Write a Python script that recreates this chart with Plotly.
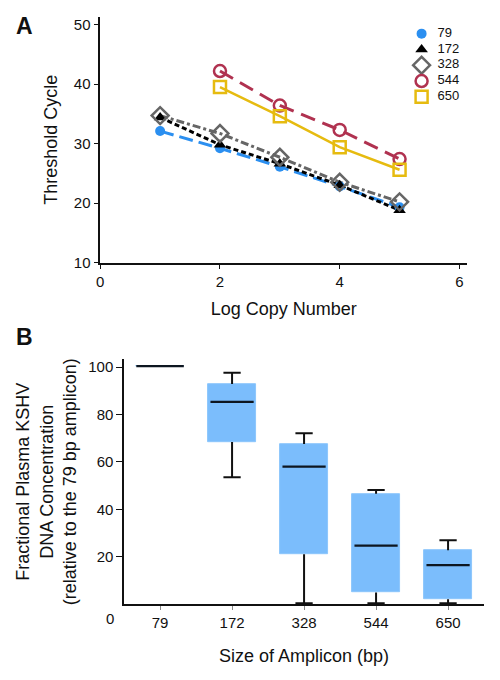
import plotly.graph_objects as go

# ---------------- Panel A data ----------------
log_copy = [1, 2, 3, 4, 5]
log_copy_long = [2, 3, 4, 5]
ct_79 = [32.1, 29.2, 26.1, 22.8, 19.3]
ct_172 = [34.4, 29.8, 26.6, 23.0, 18.8]
ct_328 = [34.7, 31.7, 27.7, 23.5, 20.2]
ct_544 = [42.2, 36.4, 32.3, 27.4]
ct_650 = [39.5, 34.6, 29.4, 25.6]
series_names = ["79", "172", "328", "544", "650"]

# ---------------- Panel B data ----------------
amplicons = ["79", "172", "328", "544", "650"]
b_lower = [100.4, 53.5, 0.5, 0.5, 0.5]
b_q1 = [100.4, 68.4, 21.1, 5.0, 2.1]
b_median = [100.4, 85.3, 58.0, 24.7, 16.5]
b_q3 = [100.4, 92.8, 67.6, 46.6, 22.8]
b_upper = [100.4, 97.6, 72.1, 48.2, 27.0]

# page body has an 8px default margin: the figure sits at (8, 8)
OFF = 8
W, H = 500 - 2 * OFF, 680 - 2 * OFF
FONT = "Liberation Sans, Arial, Helvetica, sans-serif"

fig = go.Figure()

styles = [
    ("#2b8ff0", "circle", 10, "14px,6px", 3),
    ("#000000", "triangle-up", 11, "5px,3px", 3),
    ("#666666", "diamond-open", 13, "8px,3px,3px,3px", 3),
    ("#b03250", "circle-open", 12, "15px,8px", 3),
    ("#e6bb10", "square-open", 12, "solid", 2.5),
]
xs_list = [log_copy, log_copy, log_copy, log_copy_long, log_copy_long]
ys_list = [ct_79, ct_172, ct_328, ct_544, ct_650]

for xs, ys, (color, sym, size, dash, lw) in zip(xs_list, ys_list, styles):
    fig.add_trace(go.Scatter(
        x=xs, y=ys, mode="lines", showlegend=False,
        line=dict(color=color, width=lw, dash=dash),
        xaxis="x", yaxis="y", hoverinfo="skip"))
for name, xs, ys, (color, sym, size, dash, lw) in zip(series_names, xs_list, ys_list, styles):
    fig.add_trace(go.Scatter(
        x=xs, y=ys, mode="markers", name=name, showlegend=False,
        marker=dict(color=color, symbol=sym, size=size,
                    line=dict(color=color, width=2.5 if "open" in sym else 0)),
        xaxis="x", yaxis="y"))

# legend (key) drawn on its own small hidden axis
for i, (name, (color, sym, size, dash, lw)) in enumerate(zip(series_names, styles)):
    fig.add_trace(go.Scatter(
        x=[0], y=[i], mode="markers", showlegend=False, hoverinfo="skip",
        marker=dict(color=color, symbol=sym, size=size,
                    line=dict(color=color, width=2.5 if "open" in sym else 0)),
        xaxis="x3", yaxis="y3"))
fig.add_trace(go.Scatter(
    x=[16] * len(series_names), y=list(range(len(series_names))), mode="text",
    text=series_names, textposition="middle right", showlegend=False, hoverinfo="skip",
    textfont=dict(family=FONT, size=13, color="#111111"),
    xaxis="x3", yaxis="y3"))

# ---------------- Panel B (boxes drawn as bars + lines) ----------------
idx = list(range(len(amplicons)))
fig.add_trace(go.Bar(
    x=idx, y=[q3 - q1 for q1, q3 in zip(b_q1, b_q3)], base=b_q1, width=0.66,
    marker=dict(color="#7bbdfc", line=dict(color="#8cc6fc", width=1)),
    showlegend=False, xaxis="x2", yaxis="y2", hoverinfo="skip"))

wx, wy = [], []
for i in idx:
    if b_upper[i] > b_q3[i]:
        wx += [i, i, None, i - 0.12, i + 0.12, None]
        wy += [b_q3[i], b_upper[i], None, b_upper[i], b_upper[i], None]
    if b_lower[i] < b_q1[i]:
        wx += [i, i, None, i - 0.12, i + 0.12, None]
        wy += [b_q1[i], b_lower[i], None, b_lower[i], b_lower[i], None]
fig.add_trace(go.Scatter(x=wx, y=wy, mode="lines", line=dict(color="#111111", width=2),
                         showlegend=False, xaxis="x2", yaxis="y2", hoverinfo="skip"))
mx, my = [], []
for i in idx:
    half = 0.33 if i == 0 else 0.3
    mx += [i - half, i + half, None]
    my += [b_median[i], b_median[i], None]
fig.add_trace(go.Scatter(x=mx, y=my, mode="lines", line=dict(color="#0d1620", width=2.2),
                         showlegend=False, xaxis="x2", yaxis="y2", hoverinfo="skip"))


def px_x(p):
    return (p - OFF) / W


def px_y(p):
    return 1 - (p - OFF) / H


tickfont = dict(family=FONT, size=15, color="#111111")
titlefont = dict(family=FONT, size=18, color="#111111")

fig.update_layout(
    width=W, height=H,
    margin=dict(l=0, r=0, t=0, b=0),
    paper_bgcolor="white", plot_bgcolor="white",
    font=dict(family=FONT, color="#111111"),
    xaxis=dict(domain=[px_x(97), px_x(467)], range=[0, 6.13], tickvals=[0, 2, 4, 6],
               showgrid=False, zeroline=False, showline=True, linecolor="#111111", linewidth=1.5,
               ticks="outside", ticklen=5, tickcolor="#111111", tickfont=tickfont,
               title=dict(text="Log Copy Number", font=titlefont, standoff=13),
               anchor="y"),
    yaxis=dict(domain=[px_y(265), px_y(16)], range=[10, 51.3], tickvals=[10, 20, 30, 40, 50],
               showgrid=False, zeroline=False, showline=True, linecolor="#111111", linewidth=1.5,
               ticks="outside", ticklen=5, tickcolor="#111111", tickfont=tickfont,
               title=dict(text="Threshold Cycle", font=titlefont, standoff=12),
               anchor="x"),
    xaxis2=dict(domain=[px_x(121), px_x(484)], range=[-0.5, 4.5], tickvals=idx, ticktext=amplicons,
                showgrid=False, zeroline=False, showline=True, linecolor="#111111", linewidth=1.5,
                ticks="outside", ticklen=4, tickcolor="#888888", tickfont=tickfont,
                title=dict(text="Size of Amplicon (bp)", font=titlefont, standoff=19),
                anchor="y2"),
    yaxis2=dict(domain=[px_y(611.5), px_y(363)], range=[0, 103.3], tickvals=[20, 40, 60, 80, 100],
                showgrid=False, zeroline=False, showline=True, linecolor="#111111", linewidth=1.5,
                ticks="outside", ticklen=6, tickcolor="#111111", tickfont=tickfont,
                title=dict(text="Fractional Plasma KSHV<br>DNA Concentration<br>(relative to the 79 bp amplicon)",
                           font=titlefont, standoff=7),
                anchor="x2"),
    xaxis3=dict(domain=[px_x(400), px_x(490)], range=[-21, 69], visible=False, fixedrange=True,
                anchor="y3"),
    yaxis3=dict(domain=[px_y(105), px_y(25)], range=[4.5, -0.5], visible=False, fixedrange=True,
                anchor="x3"),
    showlegend=False,
    bargap=0,
)

fig.add_annotation(text="<b>A</b>", x=px_x(10), y=px_y(25), xref="paper", yref="paper",
                   xanchor="left", yanchor="middle", showarrow=False,
                   font=dict(family=FONT, size=23, color="#111111"))
fig.add_annotation(text="<b>B</b>", x=px_x(10), y=px_y(341), xref="paper", yref="paper",
                   xanchor="left", yanchor="middle", showarrow=False,
                   font=dict(family=FONT, size=23, color="#111111"))
fig.add_annotation(text="0", x=px_x(107), y=px_y(626), xref="paper", yref="paper",
                   xanchor="center", yanchor="middle", showarrow=False, font=tickfont)

fig.write_html("out.html")
